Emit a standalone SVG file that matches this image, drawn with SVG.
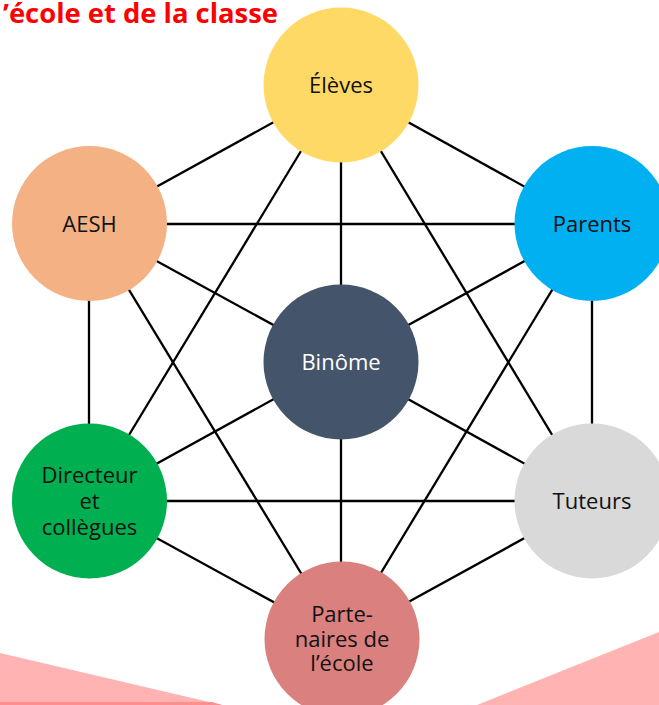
<svg xmlns="http://www.w3.org/2000/svg" width="659" height="705" viewBox="0 0 659 705">
  <style>
    .edge { stroke: #000; stroke-width: 2.3; fill: none; }
    .lbl { font-family: "Open Sans", "Noto Sans", sans-serif; font-size: 22px; fill: #111; text-anchor: middle; }
    .title { font-family: "Open Sans", "Noto Sans", sans-serif; font-size: 26px; font-weight: bold; fill: #FF0000; }
  </style>
  <rect width="659" height="705" fill="#FFFFFF"/>

  <!-- decorative bands at the bottom -->
  <g id="decor">
    <polygon points="0,653 222,705 0,705" fill="#FFB3B3"/>
    <polygon points="0,702 212,702 222,705 0,705" fill="#FF8F8F"/>
    <polygon points="477,705 659,632 659,705" fill="#FFB3B3"/>
  </g>

  <text class="title" x="3" y="23" textLength="275" lengthAdjust="spacingAndGlyphs">’école et de la classe</text>

  <!-- connectors (centre to centre, covered by the circles) -->
  <g id="connectors" class="edge">
    <!-- spokes to Binôme -->
    <line x1="341" y1="85" x2="341" y2="362"/>
    <line x1="89" y1="224" x2="341" y2="362"/>
    <line x1="592" y1="224" x2="341" y2="362"/>
    <line x1="89" y1="501" x2="341" y2="362"/>
    <line x1="592" y1="501" x2="341" y2="362"/>
    <line x1="341" y1="639" x2="341" y2="362"/>
    <!-- outer ring -->
    <line x1="341" y1="85" x2="89" y2="224"/>
    <line x1="341" y1="85" x2="592" y2="224"/>
    <line x1="89" y1="224" x2="89" y2="501"/>
    <line x1="592" y1="224" x2="592" y2="501"/>
    <line x1="89" y1="501" x2="341" y2="639"/>
    <line x1="592" y1="501" x2="341" y2="639"/>
    <!-- diagonals -->
    <line x1="341" y1="85" x2="89" y2="501"/>
    <line x1="341" y1="85" x2="592" y2="501"/>
    <line x1="89" y1="224" x2="592" y2="224"/>
    <line x1="89" y1="501" x2="592" y2="501"/>
    <line x1="89" y1="224" x2="341" y2="639"/>
    <line x1="592" y1="224" x2="341" y2="639"/>
  </g>

  <g id="eleves">
    <circle cx="341" cy="85" r="77.5" fill="#FFD966"/>
    <text class="lbl" x="341" y="93">Élèves</text>
  </g>
  <g id="aesh">
    <circle cx="89.5" cy="223.5" r="77.5" fill="#F4B183"/>
    <text class="lbl" x="89.5" y="231.5">AESH</text>
  </g>
  <g id="parents">
    <circle cx="592" cy="223.5" r="77.5" fill="#00B0F0"/>
    <text class="lbl" x="592" y="231.5">Parents</text>
  </g>
  <g id="binome">
    <circle cx="341" cy="362" r="77.5" fill="#44546A"/>
    <text class="lbl" x="341" y="370" fill="#FFFFFF" style="fill:#FFFFFF">Binôme</text>
  </g>
  <g id="directeur">
    <circle cx="89.5" cy="501" r="77.5" fill="#00B050"/>
    <text class="lbl" x="89.5" y="483">Directeur</text>
    <text class="lbl" x="89.5" y="509">et</text>
    <text class="lbl" x="89.5" y="535">collègues</text>
  </g>
  <g id="tuteurs">
    <circle cx="592" cy="501" r="77.5" fill="#D9D9D9"/>
    <text class="lbl" x="592" y="509">Tuteurs</text>
  </g>
  <g id="partenaires">
    <circle cx="342" cy="639" r="77.5" fill="#DA807E"/>
    <text class="lbl" x="342" y="622">Parte-</text>
    <text class="lbl" x="342" y="647">naires de</text>
    <text class="lbl" x="342" y="671">l’école</text>
  </g>
</svg>
